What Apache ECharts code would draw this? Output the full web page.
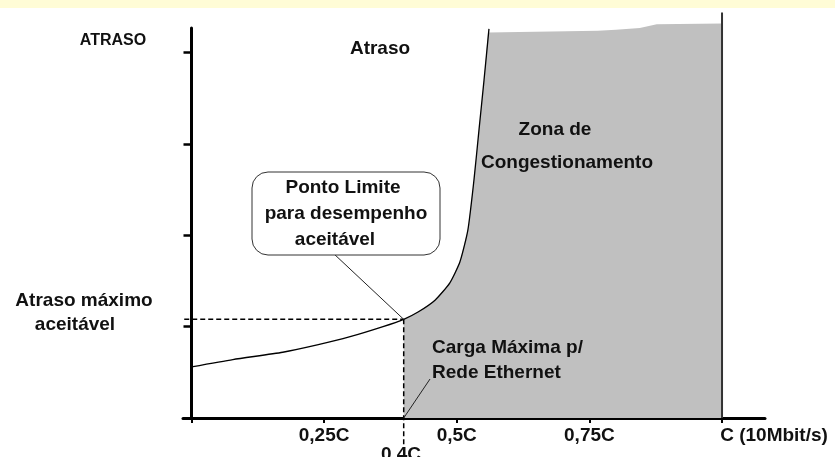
<!DOCTYPE html>
<html>
<head>
<meta charset="utf-8">
<script src="https://cdn.jsdelivr.net/npm/echarts@6/dist/echarts.min.js"></script>
<style>
  html, body { margin: 0; padding: 0; background: #ffffff; }
  #chart { width: 835px; height: 457px; }
</style>
</head>
<body>
<div id="chart"></div>
<script>
// Delay curve: offered load (fraction of C) against delay
const loadX  = [0, 0.078, 0.172, 0.237, 0.299, 0.361, 0.4, 0.427, 0.459, 0.487, 0.506, 0.521, 0.5325, 0.542, 0.5514, 0.5607];
const delayY = [0.56, 0.64, 0.72, 0.80, 0.89, 1.00, 1.08, 1.16, 1.29, 1.48, 1.71, 2.06, 2.61, 3.16, 3.70, 4.26];

// Upper edge of the congestion zone (right of the curve)
const zoneTopX = [0.559, 0.766, 0.80, 0.845, 0.877, 1.0];
const zoneTopY = [4.22, 4.24, 4.25, 4.27, 4.31, 4.32];

// Limit point: maximum load for Ethernet and maximum acceptable delay
const limitLoad = 0.4;
const limitDelay = 1.08;
const fullLoad = 1.0;
const fullLoadLineTop = 4.44;

// Axis ticks and labels
const xTickValues  = [0, 0.25, 0.5, 0.75, 1];
const xLabelValues = [0.25, 0.5, 0.75, 1];
const xTickLabels  = ['0,25C', '0,5C', '0,75C', 'C (10Mbit/s)'];
const yTickValues  = [1, 2, 3, 4];

const FONT = '"Liberation Sans", Arial, sans-serif';
const FS = 19;

const curveData = loadX.map((x, i) => [x, delayY[i]]);
const zoneData = loadX
  .map((x, i) => [x, delayY[i]])
  .filter(p => p[0] >= limitLoad && p[1] < zoneTopY[0])
  .concat(zoneTopX.map((x, i) => [x, zoneTopY[i]]));

const chart = echarts.init(document.getElementById('chart'), null, { renderer: 'canvas' });

function txt(text, x, y, opts) {
  return {
    type: 'text', z: 120,
    style: Object.assign({
      text: text, x: x, y: y,
      font: 'bold ' + FS + 'px ' + FONT,
      fill: '#111',
      align: 'center', verticalAlign: 'middle'
    }, opts || {})
  };
}

const option = {
  animation: false,
  backgroundColor: '#ffffff',
  grid: { left: 183, right: 70, top: 28, bottom: 39, containLabel: false },
  xAxis: {
    type: 'value', min: -0.016, max: 1.081,
    axisLine: { show: true, lineStyle: { color: '#000', width: 3 } },
    axisTick: { show: true, customValues: xTickValues, length: 5, lineStyle: { color: '#000', width: 2 } },
    axisLabel: {
      show: true, customValues: xLabelValues, margin: 8,
      fontFamily: FONT, fontWeight: 'bold', fontSize: FS, color: '#111',
      formatter: function (v) {
        const i = xLabelValues.indexOf(v);
        const s = i >= 0 ? xTickLabels[i] : '';
        return v === fullLoad ? '{r|' + s + '}' : s;
      },
      rich: {
        r: { fontFamily: FONT, fontWeight: 'bold', fontSize: FS, color: '#111', padding: [0, 0, 0, 104] }
      }
    },
    splitLine: { show: false }
  },
  yAxis: {
    type: 'value', min: 0, max: 4.27,
    axisLine: { show: true, onZero: true, lineStyle: { color: '#000', width: 3 } },
    axisTick: { show: true, customValues: yTickValues, length: 8, lineStyle: { color: '#000', width: 2.5 } },
    axisLabel: { show: false },
    splitLine: { show: false }
  },
  series: [
    {
      name: 'Zona de Congestionamento', type: 'line', data: zoneData,
      showSymbol: false, clip: false, z: 1, silent: true,
      lineStyle: { width: 0 },
      areaStyle: { color: '#c0c0c0', opacity: 1 }
    },
    {
      type: 'line', data: [[fullLoad, 0], [fullLoad, fullLoadLineTop]],
      showSymbol: false, clip: false, z: 3, silent: true,
      lineStyle: { color: '#333', width: 2 }
    },
    {
      name: 'Atraso', type: 'line', data: curveData,
      showSymbol: false, clip: false, z: 4, silent: true, smooth: 0.2,
      lineStyle: { color: '#000', width: 1.3 }
    },
    {
      type: 'line', data: [[-0.074, limitDelay], [limitLoad, limitDelay]],
      showSymbol: false, clip: false, z: 5, silent: true,
      lineStyle: { color: '#000', width: 1.5, type: [5, 3] }
    },
    {
      type: 'line', data: [[limitLoad, limitDelay], [limitLoad, -0.3]],
      showSymbol: false, clip: false, z: 5, silent: true,
      lineStyle: { color: '#000', width: 1.5, type: [5, 3] }
    },
    {
      type: 'line', data: [[0.2705, 1.786], [limitLoad, limitDelay]],
      showSymbol: false, clip: false, z: 5, silent: true,
      lineStyle: { color: '#222', width: 1 }
    },
    {
      type: 'line', data: [[0.4496, 0.427], [limitLoad, 0]],
      showSymbol: false, clip: false, z: 5, silent: true,
      lineStyle: { color: '#222', width: 1 }
    }
  ],
  graphic: [
    { type: 'rect', z: 100, shape: { x: 0, y: 0, width: 835, height: 8 }, style: { fill: '#fffcd6' } },
    { type: 'rect', z: 110, shape: { x: 252, y: 172, width: 188, height: 83, r: 16 },
      style: { fill: '#ffffff', stroke: '#333', lineWidth: 1 } },
    txt('ATRASO', 113, 41, { font: 'bold 16px ' + FONT }),
    txt('Atraso', 380, 49),
    txt('Zona de', 555, 130),
    txt('Congestionamento', 481, 163, { align: 'left' }),
    txt('Ponto Limite', 343, 188),
    txt('para desempenho', 346, 214),
    txt('aceitável', 335, 240),
    txt('Atraso máximo', 84, 301),
    txt('aceitável', 75, 325),
    txt('Carga Máxima p/', 432, 348, { align: 'left' }),
    txt('Rede Ethernet', 432, 373, { align: 'left' }),
    txt('0,4C', 401, 455)
  ]
};

chart.setOption(option);
</script>
</body>
</html>
